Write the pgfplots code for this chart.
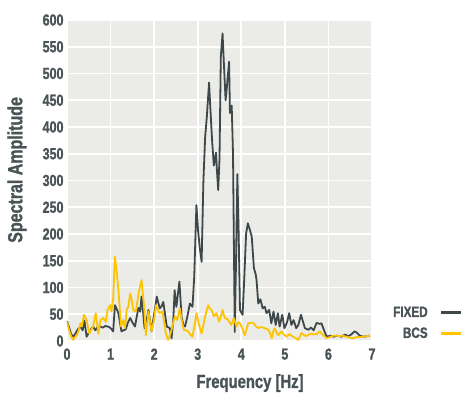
\documentclass[border=0pt]{standalone}
\usepackage{pgfplots}
\pgfplotsset{compat=1.18}
\usepackage{fontspec}
\setmainfont{Liberation Sans}[FakeStretch=0.78, BoldFont={Liberation Sans Bold}, BoldFeatures={FakeStretch=0.78, FakeBold=1.2}]
\definecolor{txt}{HTML}{4A5456}
\definecolor{panel}{HTML}{EBEBE8}
\definecolor{fixedc}{HTML}{3E484A}
\definecolor{bcsc}{HTML}{FFC400}
\begin{document}
\begin{tikzpicture}
\useasboundingbox (-67bp,-53bp) rectangle (395bp,341bp);
\begin{axis}[
  at={(0,0)}, anchor=south west,
  scale only axis, width=305bp, height=321bp,
  xmin=0, xmax=7, ymin=0, ymax=600,
  xtick={0,1,...,7}, ytick={0,50,...,600},
  axis background/.style={fill=panel},
  axis line style={draw=none},
  tick style={draw=none},
  grid=major,
  major grid style={white, line width=1.6bp},
  /pgf/number format/assume math mode=true,
  ticklabel style={font=\fontsize{16bp}{18bp}\selectfont\bfseries, text=txt},
  xticklabel style={yshift=-4bp},
  xlabel={Frequency [Hz]},
  ylabel={Spectral Amplitude},
  label style={font=\fontsize{19bp}{21bp}\selectfont\bfseries, text=txt},
  xlabel style={at={(axis description cs:0.6,-0.131)}, anchor=center},
  ylabel style={at={(axis description cs:-0.164,0.533)}, anchor=center, font=\fontsize{20.5bp}{22bp}\selectfont\bfseries},
  legend plot pos=right,
  legend cell align=right,
  legend image code/.code={\path (0bp,0bp); \draw[#1, line width=2.4bp] (10bp,0bp) -- (30bp,0bp);},
  legend style={draw=none, fill=none, at={(1.295,0.056)}, anchor=east,
    font=\fontsize{15bp}{16bp}\selectfont\bfseries, text=txt, row sep=5bp,
    inner sep=0pt},
]
\addplot[fixedc, line width=1.8bp, line join=round] coordinates {
(0.00,37)(0.05,25)(0.10,12)(0.15,8)(0.20,15)(0.25,22)(0.31,27)(0.36,20)(0.40,38)(0.45,8)
(0.50,15)(0.55,22)(0.60,27)(0.65,20)(0.70,26)(0.76,27)(0.82,25)(0.88,28)(0.94,27)(0.99,25)
(1.06,18)(1.10,67)(1.15,58)(1.18,52)(1.25,18)(1.30,20)(1.35,22)(1.40,35)(1.45,43)(1.50,35)
(1.56,27)(1.60,45)(1.64,62)(1.68,55)(1.71,83)(1.74,60)(1.78,24)(1.83,40)(1.87,58)(1.94,18)
(2.00,50)(2.06,83)(2.10,70)(2.13,61)(2.17,65)(2.21,73)(2.25,50)(2.29,27)(2.36,24)(2.40,5)
(2.44,40)(2.47,95)(2.51,64)(2.58,111)(2.63,45)(2.67,30)(2.71,27)(2.76,45)(2.82,70)(2.88,64)
(2.92,120)(2.97,254)(3.01,205)(3.05,172)(3.09,148)(3.13,298)(3.17,380)(3.21,420)(3.26,483)(3.30,420)
(3.33,375)(3.37,328)(3.42,352)(3.44,320)(3.47,282)(3.50,340)(3.53,531)(3.57,575)(3.60,520)(3.64,450)
(3.67,475)(3.69,495)(3.72,522)(3.74,426)(3.78,440)(3.81,350)(3.85,17)(3.88,150)(3.91,312)(3.94,200)
(3.97,58)(4.03,49)(4.07,120)(4.11,200)(4.15,220)(4.19,210)(4.24,195)(4.29,136)(4.33,125)(4.35,114)
(4.39,70)(4.44,78)(4.49,61)(4.54,64)(4.58,52)(4.64,58)(4.69,33)(4.74,55)(4.79,30)(4.84,52)
(4.88,27)(4.94,49)(4.99,24)(5.05,35)(5.10,52)(5.15,30)(5.20,39)(5.26,24)(5.31,30)(5.37,49)
(5.46,24)(5.54,21)(5.60,25)(5.66,20)(5.73,34)(5.79,32)(5.84,33)(5.90,20)(5.96,8)(6.05,10)
(6.12,8)(6.20,10)(6.30,8)(6.38,12)(6.45,9)(6.52,12)(6.60,18)(6.66,15)(6.72,10)(6.80,8)
(6.88,9)(6.95,10)
};
\addlegendentry{FIXED}
\addplot[bcsc, line width=1.8bp, line join=round] coordinates {
(0.00,36)(0.05,20)(0.10,8)(0.14,2)(0.19,8)(0.23,11)(0.27,20)(0.31,33)(0.34,27)(0.39,49)
(0.45,39)(0.51,14)(0.55,20)(0.60,27)(0.66,52)(0.72,14)(0.77,39)(0.83,43)(0.89,36)(0.93,58)
(0.99,67)(1.02,55)(1.06,80)(1.10,158)(1.14,130)(1.18,95)(1.24,27)(1.29,39)(1.33,24)(1.37,58)
(1.41,65)(1.45,89)(1.49,75)(1.52,58)(1.58,55)(1.65,92)(1.71,114)(1.77,64)(1.81,11)(1.87,55)
(1.94,18)(2.00,40)(2.04,67)(2.08,60)(2.12,52)(2.19,55)(2.23,35)(2.27,14)(2.32,2)(2.36,10)
(2.40,21)(2.44,35)(2.48,46)(2.53,39)(2.59,61)(2.63,40)(2.68,21)(2.73,20)(2.78,18)(2.83,12)
(2.88,8)(2.93,30)(2.97,52)(3.03,30)(3.09,14)(3.13,30)(3.17,46)(3.21,58)(3.24,67)(3.28,60)
(3.32,58)(3.37,46)(3.43,52)(3.49,36)(3.53,45)(3.57,58)(3.62,43)(3.66,42)(3.70,39)(3.77,30)
(3.83,43)(3.89,27)(3.93,35)(3.97,33)(4.03,22)(4.08,11)(4.12,22)(4.16,33)(4.22,34)(4.27,34)
(4.33,28)(4.39,24)(4.45,26)(4.51,25)(4.57,23)(4.62,21)(4.66,15)(4.70,5)(4.74,20)(4.77,24)
(4.81,15)(4.85,11)(4.92,18)(4.98,12)(5.04,8)(5.11,13)(5.15,10)(5.19,8)(5.25,5)(5.31,2)
(5.38,15)(5.43,12)(5.48,9)(5.55,12)(5.61,14)(5.67,12)(5.73,13)(5.80,18)(5.88,11)(5.96,5)
(6.05,8)(6.12,10)(6.18,10)(6.25,9)(6.32,10)(6.41,8)(6.47,7)(6.53,5)(6.60,6)(6.66,8)
(6.72,7)(6.80,8)(6.88,9)(6.95,10)
};
\addlegendentry{BCS}
\end{axis}
\end{tikzpicture}
\end{document}
